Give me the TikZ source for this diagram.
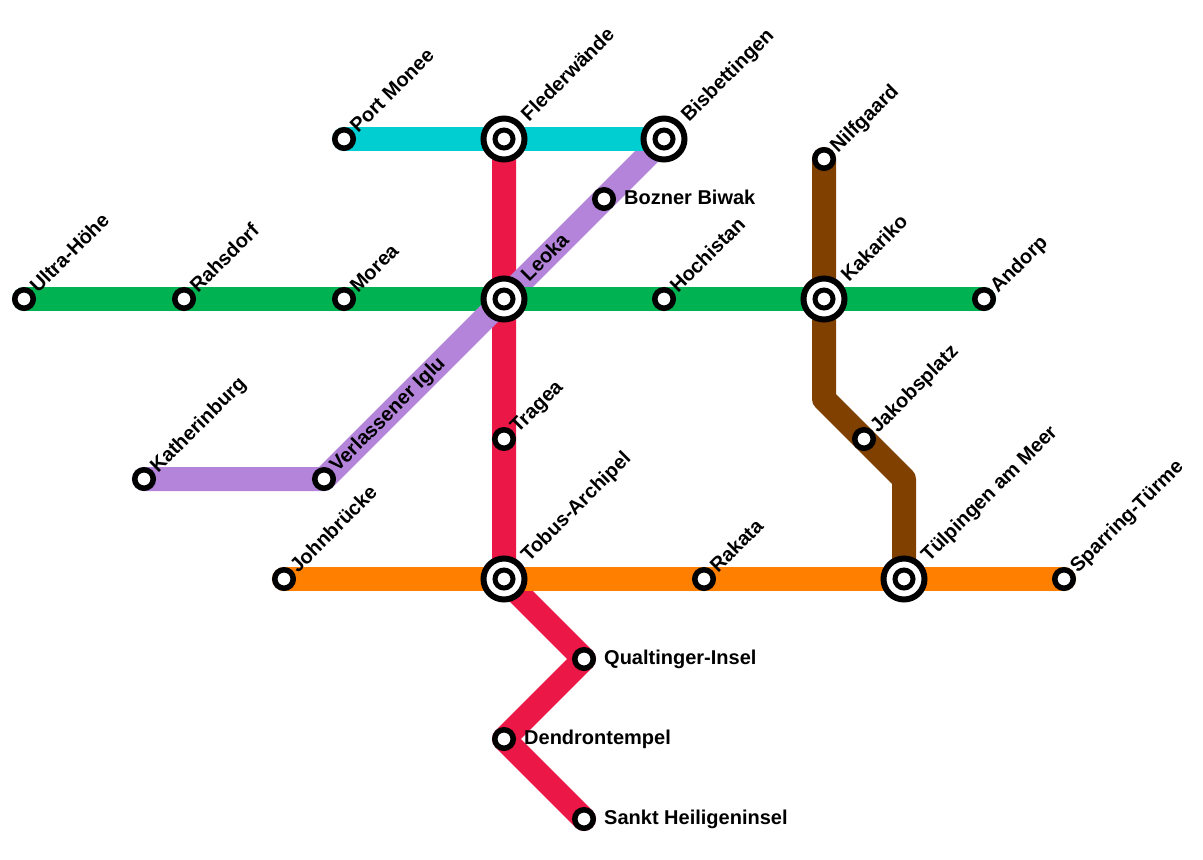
\documentclass[tikz,border=0pt]{standalone}
\usepackage{fontspec}
\setmainfont{Liberation Sans}
\usetikzlibrary{backgrounds}
\definecolor{lgreen}{HTML}{00B251}
\definecolor{lcyan}{HTML}{00CED1}
\definecolor{lred}{HTML}{EB1747}
\definecolor{lpurple}{HTML}{B384DA}
\definecolor{lbrown}{HTML}{804000}
\definecolor{lorange}{HTML}{FF8000}
\tikzset{
  stn/.style={circle,draw=black,fill=white,line width=5.5pt,minimum size=18.5pt,inner sep=0pt},
  hub/.style={circle,draw=black,fill=white,line width=6pt,minimum size=41pt,inner sep=0pt,
    path picture={\draw[black,line width=5pt] (path picture bounding box.center) circle (9pt);}},
  lab/.style={font=\bfseries\fontsize{20}{22}\selectfont,text=black,inner sep=0pt},
  dlab/.style={lab,rotate=45,anchor=base west},
  hlab/.style={lab,anchor=base west},
  metro/.style={line width=24pt,line join=round,line cap=round}
}
\begin{document}
\begin{tikzpicture}[x=1pt,y=-1pt]
\useasboundingbox (0,0) rectangle (1203,860);
% stations
\node[stn] (ultra) at (24,299) {};
\node[stn] (rahs) at (184,299) {};
\node[stn] (morea) at (344,299) {};
\node[hub] (leoka) at (504,299) {};
\node[stn] (hoch) at (664,299) {};
\node[hub] (kaka) at (824,299) {};
\node[stn] (andorp) at (984,299) {};
\node[stn] (port) at (344,139) {};
\node[hub] (fleder) at (504,139) {};
\node[hub] (bisb) at (664,139) {};
\node[stn] (bozner) at (604,199) {};
\node[stn] (kath) at (144,479) {};
\node[stn] (verl) at (324,479) {};
\node[stn] (tragea) at (504,439) {};
\node[hub] (tobus) at (504,579) {};
\node[stn] (john) at (284,579) {};
\node[stn] (rakata) at (704,579) {};
\node[hub] (tuelp) at (904,579) {};
\node[stn] (sparr) at (1064,579) {};
\node[stn] (qual) at (584,659) {};
\node[stn] (dend) at (504,739) {};
\node[stn] (sankt) at (584,819) {};
\node[stn] (nilf) at (824,159) {};
\node[stn] (jakob) at (864,439) {};
\coordinate (b1) at (824,399);
\coordinate (b2) at (904,479);
% lines
\begin{scope}[on background layer]
\draw[metro,lbrown] (nilf.center) -- (kaka.center) -- (b1) -- (jakob.center) -- (b2) -- (tuelp.center);
\draw[metro,lred] (fleder.center) -- (leoka.center) -- (tragea.center) -- (tobus.center) -- (qual.center) -- (dend.center) -- (sankt.center);
\draw[metro,lgreen] (ultra.center) -- (rahs.center) -- (morea.center) -- (leoka.center);
\draw[metro,lpurple] (kath.center) -- (verl.center) -- (leoka.center) -- (bozner.center) -- (bisb.center);
\draw[metro,lgreen] (leoka.center) -- (hoch.center) -- (kaka.center) -- (andorp.center);
\draw[metro,lcyan] (port.center) -- (fleder.center) -- (bisb.center);
\draw[metro,lorange] (john.center) -- (tobus.center) -- (rakata.center) -- (tuelp.center) -- (sparr.center);
\end{scope}
% labels
\node[dlab] (l1) at (38,294) {Ultra-Höhe};
\node[dlab] (l2) at (198,294) {Rahsdorf};
\node[dlab] (l3) at (358,294) {Morea};
\node[dlab] (l4) at (529,282.5) {Leoka};
\node[dlab] (l5) at (678,294) {Hochistan};
\node[dlab] (l6) at (849,282.5) {Kakariko};
\node[dlab] (l7) at (998,294) {Andorp};
\node[dlab] (l8) at (358,134) {Port Monee};
\node[dlab] (l9) at (529,122.5) {Flederwände};
\node[dlab] (l10) at (689,122.5) {Bisbettingen};
\node[hlab] (l11) at (624,204) {Bozner Biwak};
\node[dlab] (l12) at (158,474) {Katherinburg};
\node[dlab] (l13) at (337.5,473) {Verlassener Iglu};
\node[dlab] (l14) at (518,434) {Tragea};
\node[dlab] (l15) at (529,562.5) {Tobus-Archipel};
\node[dlab] (l16) at (298,574) {Johnbrücke};
\node[dlab] (l17) at (718,574) {Rakata};
\node[dlab] (l18) at (929,562.5) {Tülpingen am Meer};
\node[dlab] (l19) at (1078,574) {Sparring-Türme};
\node[hlab] (l20) at (604,664) {Qualtinger-Insel};
\node[hlab] (l21) at (524,744) {Dendrontempel};
\node[hlab] (l22) at (604,824) {Sankt Heiligeninsel};
\node[dlab] (l23) at (838,154) {Nilfgaard};
\node[dlab] (l24) at (878,434) {Jakobsplatz};
\end{tikzpicture}
\end{document}
